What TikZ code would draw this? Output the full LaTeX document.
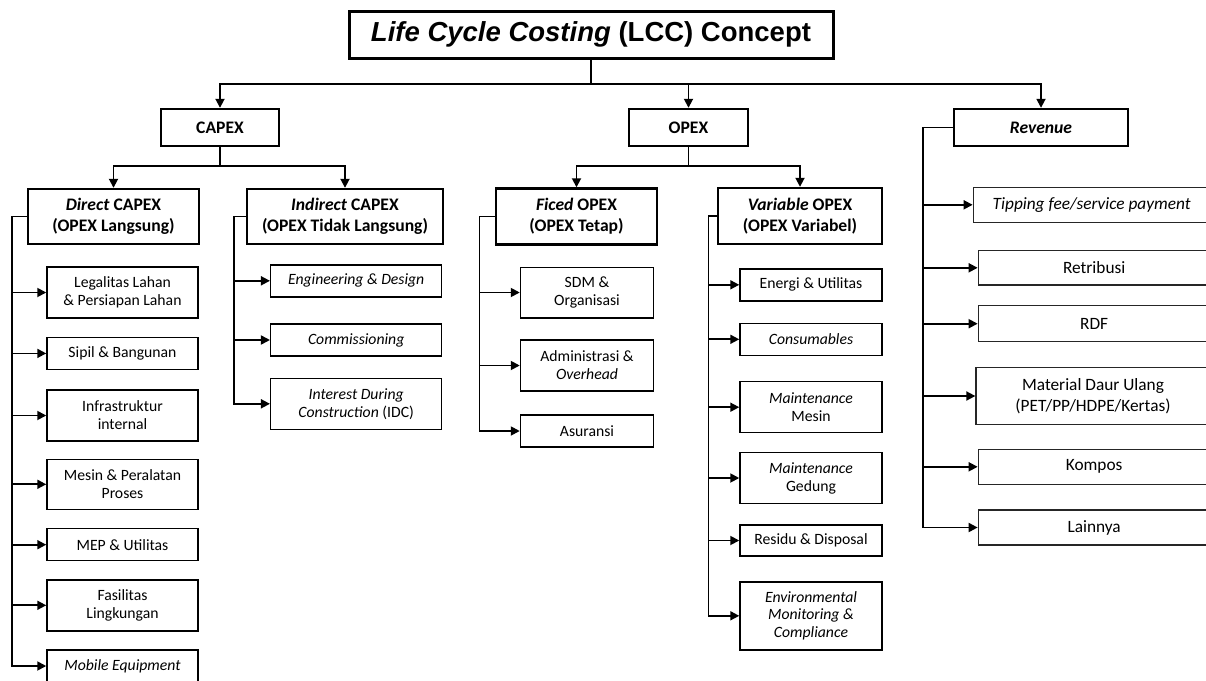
\documentclass[tikz,border=0pt]{standalone}
\usepackage{fontspec}
\setmainfont{Carlito}
\newfontfamily\titlefont{Liberation Sans}
\usetikzlibrary{arrows.meta}
\begin{document}
\begin{tikzpicture}[x=1pt,y=-1pt,
  wh/.style 2 args={minimum width=#1pt, minimum height=#2pt},
  hdr/.style={draw, line width=2.4pt, font=\fontsize{17.6}{21}\selectfont\bfseries, align=center, inner sep=0pt},
  leaf/.style={draw, line width=1.5pt, font=\fontsize{15.7}{17.9}\selectfont, align=center, inner sep=0pt},
  rleaf/.style={draw=black!85, line width=1.3pt, font=\fontsize{17.3}{20.5}\selectfont, align=center, inner sep=0pt},
  conn/.style={line width=1.8pt},
  arr/.style={conn, -{Triangle[length=9pt,width=9pt]}}]
\useasboundingbox (0,0) rectangle (1206,680);
\clip (0,0) rectangle (1206,680);

% title and level 1
\node[draw, line width=3pt, wh={484}{47}, inner sep=0pt, font=\titlefont\fontsize{27.5}{30}\selectfont\bfseries] (title) at (591,34.5) {\textit{Life Cycle Costing} (LCC) Concept};
\node[hdr, wh={118}{37}] (capex) at (220,127.5) {CAPEX};
\node[hdr, wh={119}{37}] (opex) at (688.5,127.5) {OPEX};
\node[hdr, wh={174}{37}] (rev) at (1041,127.5) {\textit{Revenue}};

% level 2
\node[hdr, wh={171}{55}] (direct) at (113.5,216.5) {\textit{Direct} CAPEX\\(OPEX Langsung)};
\node[hdr, wh={196}{55}] (indirect) at (345,216.5) {\textit{Indirect} CAPEX\\(OPEX Tidak Langsung)};
\node[hdr, wh={161}{56}] (fixed) at (576.5,216.5) {\textit{Ficed} OPEX\\(OPEX Tetap)};
\node[hdr, wh={164}{56}] (variable) at (800,216) {\textit{Variable} OPEX\\(OPEX Variabel)};

% Direct CAPEX leaves
\node[leaf, wh={151}{51}] (legal) at (122.5,292.5) {Legalitas Lahan\\\& Persiapan Lahan};
\node[leaf, wh={151}{32}] (sipil) at (122.5,353.4) {Sipil \& Bangunan};
\node[leaf, wh={151}{51}] (infra) at (122.5,415.5) {Infrastruktur\\internal};
\node[leaf, wh={151}{50}] (mesin) at (122.5,484.3) {Mesin \& Peralatan\\Proses};
\node[leaf, wh={151}{32}] (mep) at (122.5,544.7) {MEP \& Utilitas};
\node[leaf, wh={151}{51}] (fasil) at (122.5,605.3) {Fasilitas\\Lingkungan};
\node[leaf, wh={151}{32}] (mobile) at (122.5,666) {\textit{Mobile Equipment}};

% Indirect CAPEX leaves
\node[leaf, wh={171}{32}] (eng) at (356.2,280.8) {\textit{Engineering \& Design}};
\node[leaf, wh={171}{32}] (comm) at (356.2,340) {\textit{Commissioning}};
\node[leaf, wh={171}{51}] (idc) at (356.2,403.8) {\textit{Interest During}\\\textit{Construction} (IDC)};

% Fixed OPEX leaves
\node[leaf, wh={133}{50.5}] (sdm) at (587,292.5) {SDM \&\\Organisasi};
\node[leaf, wh={133}{51}] (admin) at (587,365.5) {Administrasi \&\\\textit{Overhead}};
\node[leaf, wh={133}{32}] (asur) at (587,431) {Asuransi};

% Variable OPEX leaves
\node[leaf, wh={142}{32}] (energi) at (811,284.8) {Energi \& Utilitas};
\node[leaf, wh={142}{32}] (consum) at (811,339.3) {\textit{Consumables}};
\node[leaf, wh={142}{51}] (mmesin) at (811,407.2) {\textit{Maintenance}\\Mesin};
\node[leaf, wh={142}{51}] (mged) at (811,478) {\textit{Maintenance}\\Gedung};
\node[leaf, wh={142}{31}] (residu) at (811,540.5) {Residu \& Disposal};
\node[leaf, wh={142}{68}] (env) at (811,615.8) {\textit{Environmental}\\\textit{Monitoring \&}\\\textit{Compliance}};

% Revenue leaves
\node[rleaf, wh={236.7}{35}] (tip) at (1091.65,204.8) {\textit{Tipping fee/service payment}};
\node[rleaf, wh={231.7}{34.3}] (retri) at (1094.15,267.8) {Retribusi};
\node[rleaf, wh={231.7}{36}] (rdf) at (1094.15,323.7) {RDF};
\node[rleaf, wh={234}{56.6}] (mat) at (1093,396) {Material Daur Ulang\\(PET/PP/HDPE/Kertas)};
\node[rleaf, wh={231.7}{35}] (kompos) at (1094.15,466.8) {Kompos};
\node[rleaf, wh={231.7}{35}] (lain) at (1094.15,527.5) {Lainnya};

% top bus
\coordinate (busy) at (0,84);
\draw[conn] (title.south) -- (title.south |- busy);
\draw[arr] (title.south |- busy) -| (capex.north);
\draw[arr] (title.south |- busy) -| (opex.north);
\draw[arr] (title.south |- busy) -| (rev.north);

% second level buses
\coordinate (b2) at (0,166);
\draw[arr] (capex.south) -- (capex.south |- b2) -| (direct.north);
\draw[arr] (capex.south |- b2) -| (indirect.north);
\draw[arr] (opex.south) -- (opex.south |- b2) -| (fixed.north);
\draw[arr] (opex.south |- b2) -| (variable.north);

% trunks
\coordinate (dtr) at (12,0);
\draw[arr] (direct.west) -- (dtr |- direct.west) |- (mobile.west);
\foreach \n in {legal,sipil,infra,mesin,mep,fasil} \draw[arr] (dtr |- \n.west) -- (\n.west);

\coordinate (itr) at (234,0);
\draw[arr] (indirect.west) -- (itr |- indirect.west) |- (idc.west);
\foreach \n in {eng,comm} \draw[arr] (itr |- \n.west) -- (\n.west);

\coordinate (ftr) at (479.5,0);
\draw[arr] (fixed.west) -- (ftr |- fixed.west) |- (asur.west);
\foreach \n in {sdm,admin} \draw[arr] (ftr |- \n.west) -- (\n.west);

\coordinate (vtr) at (708.5,0);
\draw[arr] (variable.west) -- (vtr |- variable.west) |- (env.west);
\foreach \n in {energi,consum,mmesin,mged,residu} \draw[arr] (vtr |- \n.west) -- (\n.west);

\coordinate (rtr) at (922.7,0);
\draw[arr] (rev.west) -- (rtr |- rev.west) |- (lain.west);
\foreach \n in {tip,retri,rdf,mat,kompos} \draw[arr] (rtr |- \n.west) -- (\n.west);
\end{tikzpicture}
\end{document}
